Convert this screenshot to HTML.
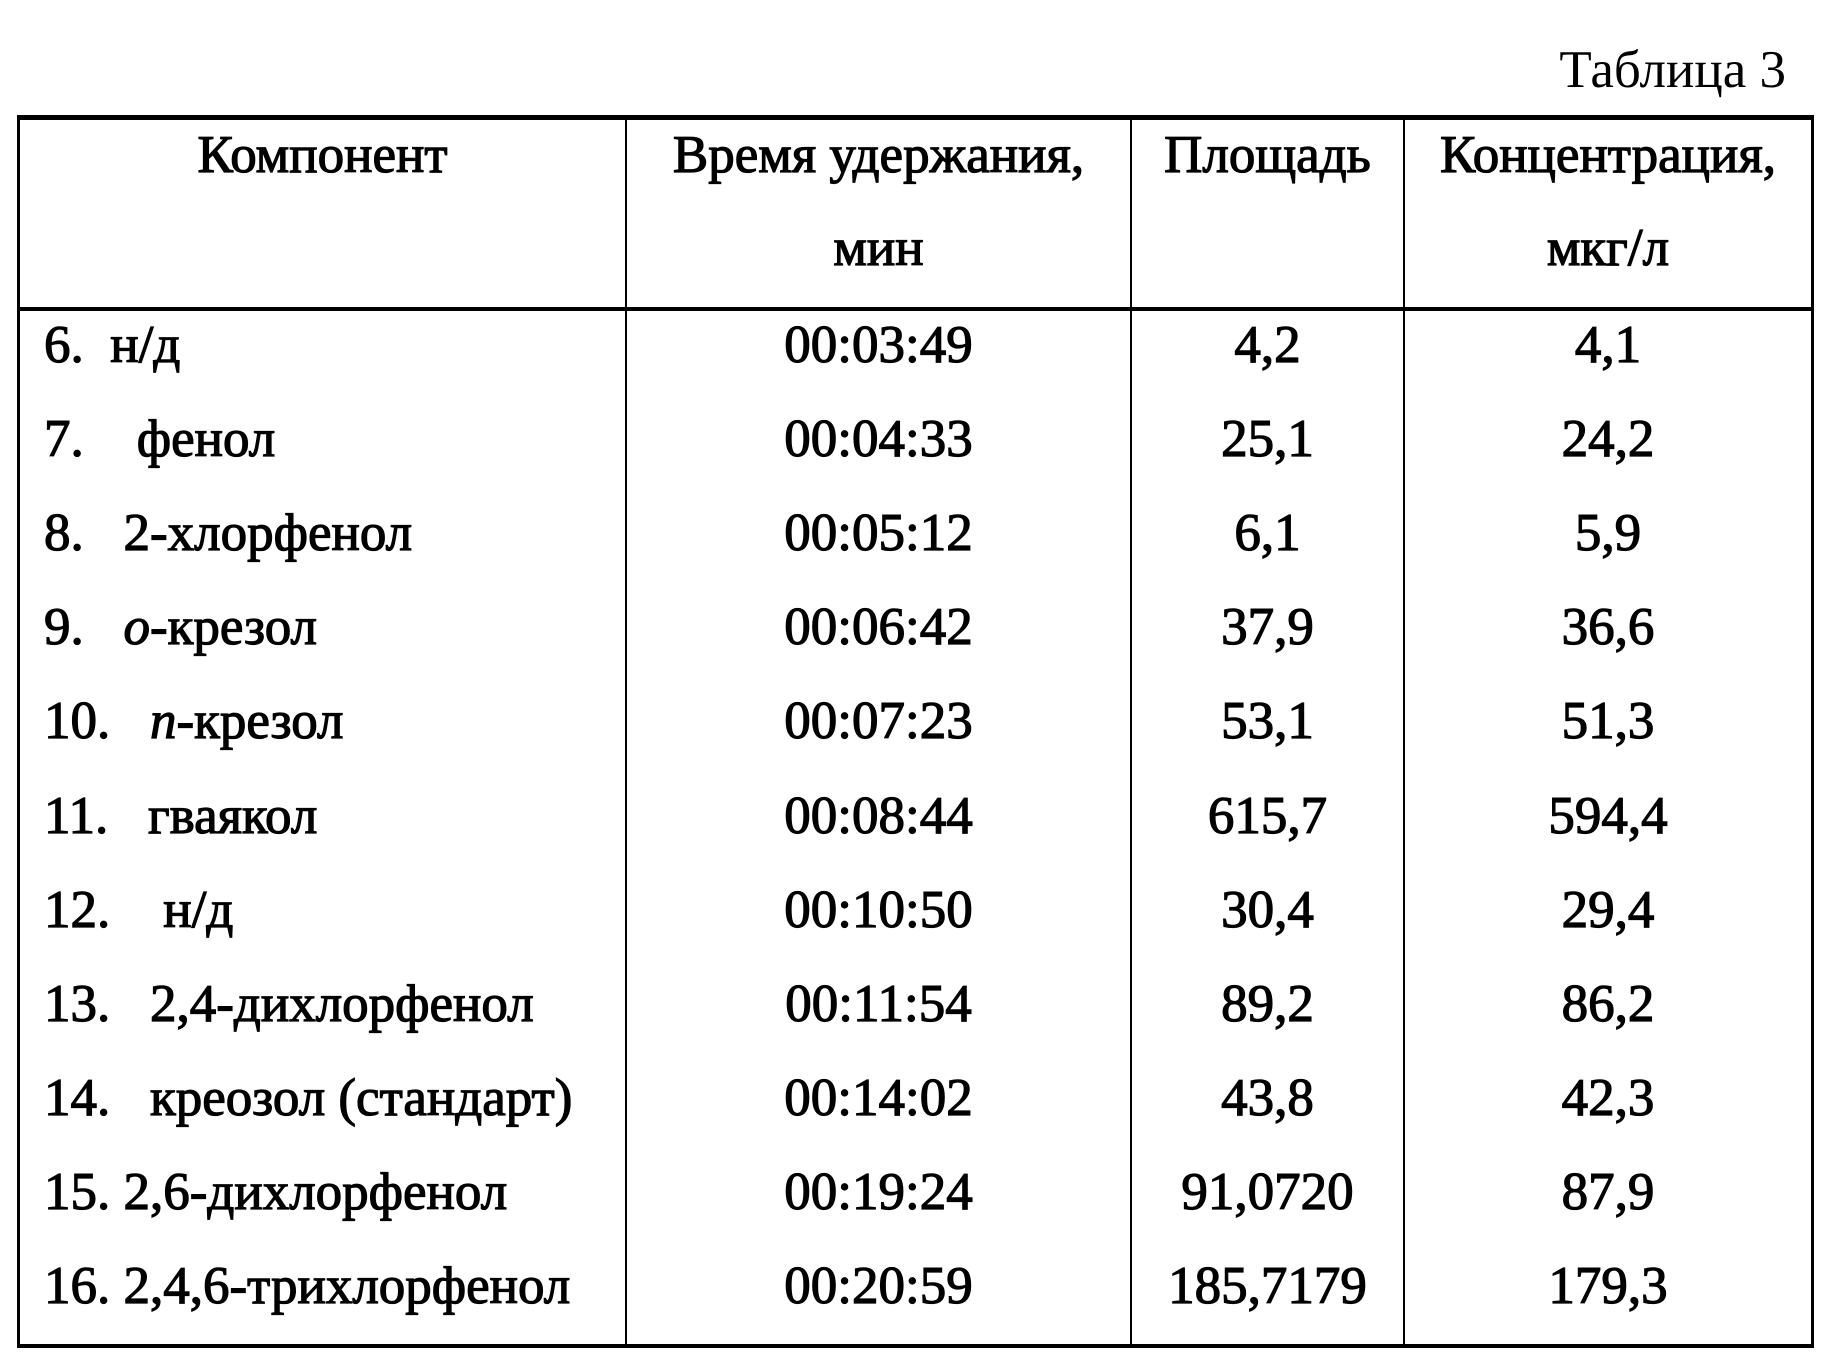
<!DOCTYPE html>
<html><head><meta charset="utf-8"><style>
body{margin:0;width:1828px;height:1360px;background:#fff;position:relative;overflow:hidden;font-family:"Liberation Serif","DejaVu Serif",serif;color:#000}
.t{position:absolute;font-size:53px;line-height:60px;white-space:nowrap;-webkit-text-stroke:1.2px #000}
.c{text-align:center}
.l{position:absolute;background:#000}
</style></head><body>
<div class="t" style="right:42px;top:40px;-webkit-text-stroke:0">Таблица 3</div>
<div class="l" style="left:17px;top:115px;width:1797px;height:5px"></div>
<div class="l" style="left:17px;top:307px;width:1797px;height:4px"></div>
<div class="l" style="left:17px;top:1344px;width:1797px;height:4px"></div>
<div class="l" style="left:17px;top:115px;width:3px;height:1233px"></div>
<div class="l" style="left:1811px;top:115px;width:3px;height:1233px"></div>
<div class="l" style="left:625px;top:115px;width:2px;height:1233px"></div>
<div class="l" style="left:1130px;top:115px;width:2px;height:1233px"></div>
<div class="l" style="left:1403px;top:115px;width:2px;height:1233px"></div>

<div class="t c" style="left:20px;width:605px;top:125px">Компонент</div>
<div class="t c" style="left:627px;width:503px;top:125px">Время удержания,</div>
<div class="t c" style="left:627px;width:503px;top:218px">мин</div>
<div class="t c" style="left:1132px;width:271px;top:125px">Площадь</div>
<div class="t c" style="left:1405px;width:406px;top:125px">Концентрация,</div>
<div class="t c" style="left:1405px;width:406px;top:218px">мкг/л</div>

<div id="rows"></div>
<script>
var d=[["6.&nbsp; н/д","00:03:49","4,2","4,1"],
["7.&nbsp;&nbsp;&nbsp; фенол","00:04:33","25,1","24,2"],
["8.&nbsp;&nbsp; 2-хлорфенол","00:05:12","6,1","5,9"],
["9.&nbsp;&nbsp; <i>о</i>-крезол","00:06:42","37,9","36,6"],
["10.&nbsp;&nbsp; <i>п</i>-крезол","00:07:23","53,1","51,3"],
["11.&nbsp;&nbsp; гваякол","00:08:44","615,7","594,4"],
["12.&nbsp;&nbsp;&nbsp; н/д","00:10:50","30,4","29,4"],
["13.&nbsp;&nbsp; 2,4-дихлорфенол","00:11:54","89,2","86,2"],
["14.&nbsp;&nbsp; креозол (стандарт)","00:14:02","43,8","42,3"],
["15. 2,6-дихлорфенол","00:19:24","91,0720","87,9"],
["16. 2,4,6-трихлорфенол","00:20:59","185,7179","179,3"]];
var h="";
for(var i=0;i<d.length;i++){var y=315+94.1*i;
h+='<div class="t" style="left:44px;top:'+y+'px">'+d[i][0]+'</div>';
h+='<div class="t c" style="left:627px;width:503px;top:'+y+'px">'+d[i][1]+'</div>';
h+='<div class="t c" style="left:1132px;width:271px;top:'+y+'px">'+d[i][2]+'</div>';
h+='<div class="t c" style="left:1405px;width:406px;top:'+y+'px">'+d[i][3]+'</div>';}
document.getElementById("rows").innerHTML=h;
</script>
</body></html>
